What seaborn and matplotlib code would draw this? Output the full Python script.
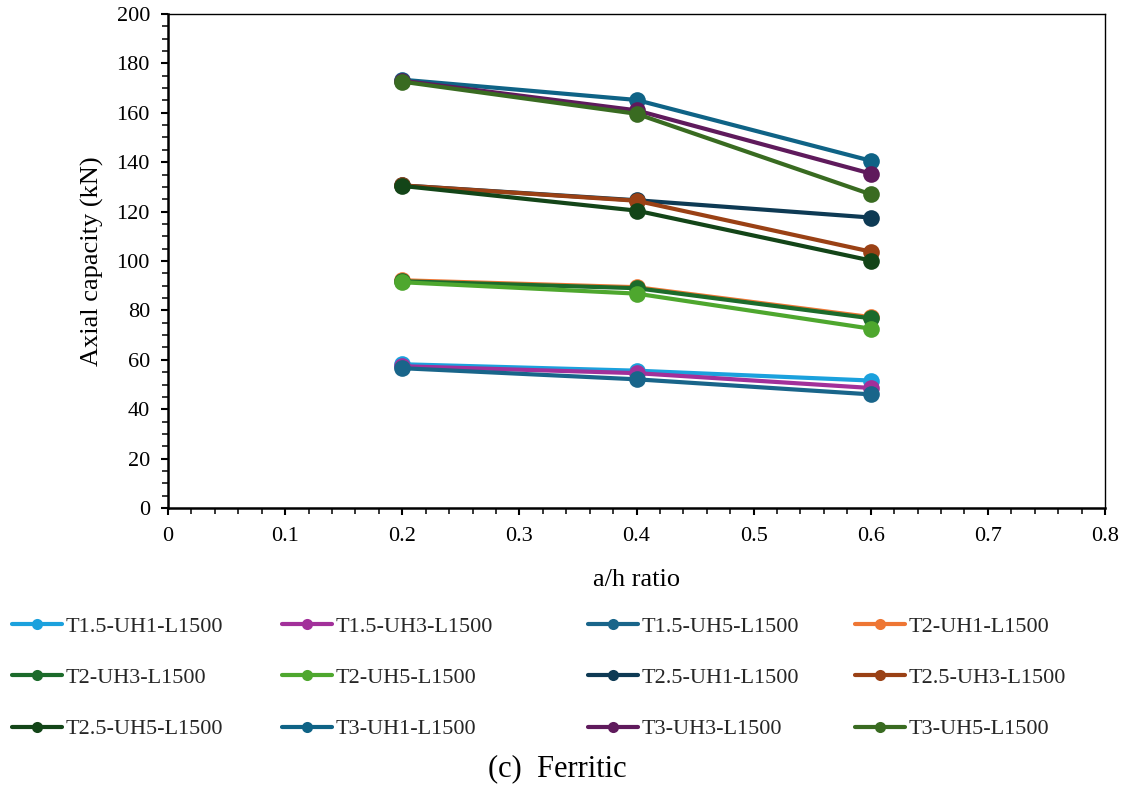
import matplotlib
matplotlib.use("Agg")
import matplotlib.pyplot as plt
from matplotlib.lines import Line2D
from matplotlib.ticker import MultipleLocator, FuncFormatter
import seaborn as sns
import pandas as pd

ah_ratio = [0.2, 0.4, 0.6]

series_names = [
    "T1.5-UH1-L1500", "T1.5-UH3-L1500", "T1.5-UH5-L1500", "T2-UH1-L1500",
    "T2-UH3-L1500", "T2-UH5-L1500", "T2.5-UH1-L1500", "T2.5-UH3-L1500",
    "T2.5-UH5-L1500", "T3-UH1-L1500", "T3-UH3-L1500", "T3-UH5-L1500",
]

t15_uh1 = [58.2, 55.6, 51.6]
t15_uh3 = [57.4, 54.6, 48.6]
t15_uh5 = [56.6, 52.1, 46.0]
t2_uh1 = [92.2, 89.4, 77.3]
t2_uh3 = [91.8, 89.0, 76.8]
t2_uh5 = [91.4, 86.8, 72.6]
t25_uh1 = [130.6, 124.6, 117.6]
t25_uh3 = [130.6, 124.4, 103.8]
t25_uh5 = [130.4, 120.4, 100.2]
t3_uh1 = [173.4, 165.2, 140.6]
t3_uh3 = [173.0, 161.0, 135.4]
t3_uh5 = [172.6, 159.6, 127.0]

colors = [
    "#1BA1DD", "#A2309A", "#19658A", "#EE7634",
    "#1C6B2B", "#4EA72E", "#0E3A54", "#9A4115",
    "#134518", "#0F6386", "#5F1A5C", "#396B21",
]

values = [t15_uh1, t15_uh3, t15_uh5, t2_uh1, t2_uh3, t2_uh5,
          t25_uh1, t25_uh3, t25_uh5, t3_uh1, t3_uh3, t3_uh5]

rows = []
for name, vals in zip(series_names, values):
    for x, v in zip(ah_ratio, vals):
        rows.append({"a/h": x, "cap": v, "series": name})
df = pd.DataFrame(rows)
palette = dict(zip(series_names, colors))

sns.set_theme(style="white")
plt.rcParams["font.family"] = ["Liberation Serif", "DejaVu Serif"]
plt.rcParams["mathtext.fontset"] = "stix"

fig = plt.figure(figsize=(11.27, 7.89), dpi=100)
ax = fig.add_axes([168 / 1127, 1 - 508 / 789, (1105 - 168) / 1127, (508 - 14) / 789])

sns.lineplot(data=df, x="a/h", y="cap", hue="series", hue_order=series_names,
             palette=palette, marker="o", markersize=12, markeredgewidth=0,
             linewidth=3.0, legend=False, ax=ax, sort=False)

ax.set_xlim(0, 0.8)
ax.set_ylim(0, 200)
ax.xaxis.set_major_locator(MultipleLocator(0.1))
ax.xaxis.set_minor_locator(MultipleLocator(0.02))
ax.yaxis.set_major_locator(MultipleLocator(20))
ax.yaxis.set_minor_locator(MultipleLocator(5))
ax.xaxis.set_major_formatter(FuncFormatter(lambda v, p: "{:g}".format(round(v, 2))))
ax.yaxis.set_major_formatter(FuncFormatter(lambda v, p: "{:g}".format(round(v))))

for side in ["left", "bottom", "top", "right"]:
    ax.spines[side].set_visible(True)
    ax.spines[side].set_color("black")
ax.spines["left"].set_linewidth(1.8)
ax.spines["bottom"].set_linewidth(1.8)
ax.spines["top"].set_linewidth(1.0)
ax.spines["right"].set_linewidth(1.0)

ax.tick_params(axis="both", which="major", direction="out", length=5, width=1.5,
               labelsize=16, colors="black", left=True, bottom=True)
ax.tick_params(axis="x", which="major", pad=9)
ax.tick_params(axis="y", which="major", pad=8)
ax.tick_params(axis="both", which="minor", direction="out", length=4, width=1.3,
               left=True, bottom=True)
ax.grid(False)

ax.set_xlabel("a/h ratio", fontsize=19, color="black", labelpad=16)
ax.set_ylabel("Axial capacity (kN)", fontsize=19, color="black", labelpad=9)

# legend: 4 columns positioned like the reference, filled row by row
col_x = [12, 282, 588, 855]
ncol = 4
for c in range(ncol):
    idx = [r * ncol + c for r in range(3)]
    handles = [Line2D([], [], color=colors[i], linewidth=3.0, marker="o",
                      markersize=8, markeredgewidth=0) for i in idx]
    labels = [series_names[i] for i in idx]
    fig.legend(handles, labels, loc="upper left",
               bbox_to_anchor=(col_x[c] / 1127, 1 - 616 / 789),
               frameon=False, fontsize=16, handlelength=2.25, handletextpad=0.15,
               labelspacing=1.39, borderaxespad=0, borderpad=0.0)

fig.text(557 / 1127, 1 - 769 / 789, "(c)  Ferritic", ha="center", va="center",
         fontsize=22, color="black")

fig.savefig("out.png", dpi=100)
